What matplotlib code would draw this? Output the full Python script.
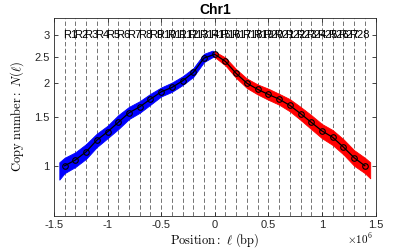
import numpy as np
import matplotlib
matplotlib.use('Agg')
import matplotlib.pyplot as plt
from matplotlib.ticker import FixedLocator, FuncFormatter, NullLocator

plt.rcParams['mathtext.fontset'] = 'cm'
plt.rcParams['axes.unicode_minus'] = False
plt.rcParams['font.family'] = ['Liberation Sans', 'DejaVu Sans']

# region boundaries (bp) and region names
bounds = [-1.4e6, -1.3e6, -1.2e6, -1.1e6, -1.0e6, -0.9e6, -0.8e6, -0.7e6, -0.6e6, -0.5e6,
          -0.4e6, -0.3e6, -0.2e6, -0.1e6, 0.0, 0.1e6, 0.2e6, 0.3e6, 0.4e6, 0.5e6,
          0.6e6, 0.7e6, 0.8e6, 0.9e6, 1.0e6, 1.1e6, 1.2e6, 1.3e6, 1.4e6]
regions = ['R%d' % i for i in range(1, 29)]

# mean copy number per boundary
cn_mean = [1.00, 1.05, 1.125, 1.24, 1.33, 1.44, 1.56, 1.64, 1.75, 1.86,
           1.93, 2.04, 2.19, 2.47, 2.55, 2.40, 2.17, 2.00, 1.90, 1.82,
           1.75, 1.66, 1.55, 1.44, 1.34, 1.27, 1.17, 1.07, 1.00]

# spread of the raw reads (left arm, blue)
blue_x = [-1.45e6, -1.4e6, -1.3e6, -1.2e6, -1.1e6, -1.0e6, -0.9e6, -0.8e6, -0.7e6,
          -0.6e6, -0.5e6, -0.4e6, -0.3e6, -0.2e6, -0.1e6, -0.02e6, 0.0]
blue_hi = [1.03, 1.07, 1.12, 1.20, 1.31, 1.40, 1.53, 1.64, 1.72, 1.83, 1.93, 2.01,
           2.12, 2.27, 2.56, 2.63, 2.59]
blue_lo = [0.89, 0.94, 0.99, 1.06, 1.17, 1.26, 1.36, 1.48, 1.56, 1.67, 1.79, 1.86,
           1.97, 2.11, 2.39, 2.49, 2.49]

# right arm, red
red_x = [0.0, 0.1e6, 0.2e6, 0.3e6, 0.4e6, 0.5e6, 0.6e6, 0.7e6, 0.8e6, 0.9e6,
         1.0e6, 1.1e6, 1.2e6, 1.3e6, 1.4e6, 1.45e6]
red_hi = [2.61, 2.48, 2.25, 2.08, 1.98, 1.91, 1.83, 1.75, 1.64, 1.53, 1.42, 1.35,
          1.25, 1.14, 1.07, 1.03]
red_lo = [2.49, 2.32, 2.09, 1.92, 1.82, 1.74, 1.67, 1.58, 1.47, 1.36, 1.26, 1.19,
          1.10, 1.00, 0.94, 0.90]

yticks = [1, 1.5, 2, 2.5, 3]
xticks = [-1.5e6, -1e6, -0.5e6, 0, 0.5e6, 1e6, 1.5e6]

fig = plt.figure(figsize=(4.15, 2.49), dpi=100)
ax = fig.add_axes([0.130, 0.134, 0.775, 0.794])
ax.set_yscale('log')

for b in bounds:
    ax.axvline(b, color='0.45', lw=0.7, dashes=(4.5, 2.5), zorder=1)

ax.fill_between(blue_x, blue_lo, blue_hi, color='#0000ff', lw=0.6, edgecolor='#0000ff', zorder=2)
ax.fill_between(red_x, red_lo, red_hi, color='#ff0000', lw=0.6, edgecolor='#ff0000', zorder=2)
ax.plot(bounds, cn_mean, color='k', lw=0.9, marker='o', ms=4, mfc='none', mew=0.8, zorder=3)

mids = [(bounds[i] + bounds[i + 1]) / 2 for i in range(len(regions))]
for m, r in zip(mids, regions):
    ax.text(m, 3, r, ha='center', va='center', fontsize=8, zorder=4)

ax.set_xlim(-1.5e6, 1.5e6)
ax.set_ylim(0.658, 3.46)
ax.xaxis.set_major_locator(FixedLocator(xticks))
ax.xaxis.set_major_formatter(FuncFormatter(lambda v, p: '%g' % (v / 1e6)))
ax.yaxis.set_major_locator(FixedLocator(yticks))
ax.yaxis.set_major_formatter(FuncFormatter(lambda v, p: '%g' % v))
ax.yaxis.set_minor_locator(NullLocator())

ax.tick_params(direction='in', length=3, width=0.6, top=True, right=True,
               labelsize=8, colors='0.15', pad=3)
for s in ax.spines.values():
    s.set_color('0.15')
    s.set_linewidth(0.6)

ax.set_title('Chr1', fontsize=10, fontweight='bold', pad=3)
ax.set_xlabel(r'$\mathrm{Position:}\ \ell\ \mathrm{(bp)}$', fontsize=9, labelpad=1)
ax.set_ylabel(r'$\mathrm{Copy\ number:}\ N(\ell)$', fontsize=9, labelpad=6)
ax.text(0.99, -0.115, r'$\times10^{6}$', transform=ax.transAxes, ha='right', va='center',
        fontsize=8, family='Liberation Sans')

fig.savefig('out.png', dpi=100)
